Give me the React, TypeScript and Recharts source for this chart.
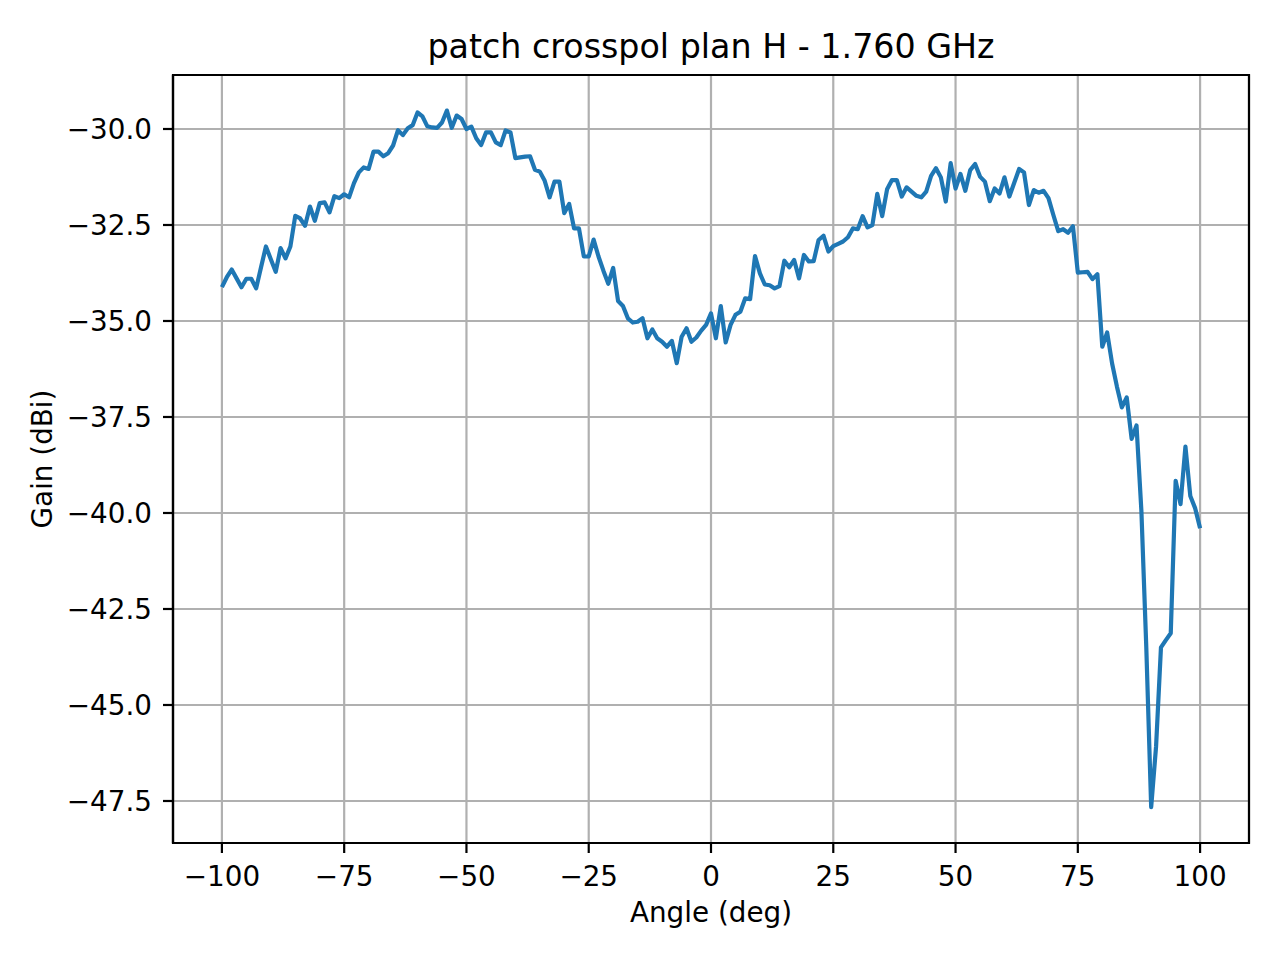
import React from "react";
import {
  LineChart,
  Line,
  XAxis,
  YAxis,
  CartesianGrid,
  ReferenceArea,
} from "recharts";

// measured pattern, 1 deg steps
const angles = [
  -100, -99, -98, -97, -96, -95, -94, -93, -92, -91,
  -90, -89, -88, -87, -86, -85, -84, -83, -82, -81,
  -80, -79, -78, -77, -76, -75, -74, -73, -72, -71,
  -70, -69, -68, -67, -66, -65, -64, -63, -62, -61,
  -60, -59, -58, -57, -56, -55, -54, -53, -52, -51,
  -50, -49, -48, -47, -46, -45, -44, -43, -42, -41,
  -40, -39, -38, -37, -36, -35, -34, -33, -32, -31,
  -30, -29, -28, -27, -26, -25, -24, -23, -22, -21,
  -20, -19, -18, -17, -16, -15, -14, -13, -12, -11,
  -10, -9, -8, -7, -6, -5, -4, -3, -2, -1,
  0, 1, 2, 3, 4, 5, 6, 7, 8, 9,
  10, 11, 12, 13, 14, 15, 16, 17, 18, 19,
  20, 21, 22, 23, 24, 25, 26, 27, 28, 29,
  30, 31, 32, 33, 34, 35, 36, 37, 38, 39,
  40, 41, 42, 43, 44, 45, 46, 47, 48, 49,
  50, 51, 52, 53, 54, 55, 56, 57, 58, 59,
  60, 61, 62, 63, 64, 65, 66, 67, 68, 69,
  70, 71, 72, 73, 74, 75, 76, 77, 78, 79,
  80, 81, 82, 83, 84, 85, 86, 87, 88, 89,
  90, 91, 92, 93, 94, 95, 96, 97, 98, 99,
  100,
];

const gain = [
  -34.12, -33.86, -33.66, -33.89, -34.12, -33.9, -33.9, -34.15, -33.6, -33.06,
  -33.39, -33.72, -33.1, -33.37, -33.06, -32.26, -32.33, -32.52, -32.02, -32.39,
  -31.93, -31.91, -32.17, -31.75, -31.8, -31.7, -31.78, -31.41, -31.13, -31.0,
  -31.04, -30.59, -30.59, -30.71, -30.63, -30.43, -30.03, -30.16, -29.98, -29.9,
  -29.57, -29.67, -29.93, -29.96, -29.97, -29.83, -29.52, -29.97, -29.65, -29.74,
  -30.0, -29.94, -30.24, -30.42, -30.09, -30.09, -30.35, -30.42, -30.04, -30.09,
  -30.76, -30.74, -30.72, -30.71, -31.06, -31.11, -31.35, -31.78, -31.37, -31.37,
  -32.19, -31.95, -32.59, -32.59, -33.32, -33.32, -32.88, -33.32, -33.69, -34.03,
  -33.62, -34.48, -34.61, -34.93, -35.04, -35.02, -34.93, -35.45, -35.22, -35.45,
  -35.54, -35.67, -35.52, -36.1, -35.41, -35.19, -35.54, -35.43, -35.25, -35.1,
  -34.8, -35.45, -34.61, -35.56, -35.1, -34.84, -34.76, -34.41, -34.43, -33.31,
  -33.76, -34.05, -34.07, -34.15, -34.09, -33.43, -33.6, -33.41, -33.89, -33.28,
  -33.45, -33.44, -32.89, -32.78, -33.19, -33.05, -32.99, -32.93, -32.82, -32.59,
  -32.61, -32.27, -32.56, -32.5, -31.69, -32.27, -31.57, -31.33, -31.33, -31.76,
  -31.52, -31.63, -31.74, -31.78, -31.63, -31.22, -31.02, -31.26, -31.89, -30.89,
  -31.55, -31.17, -31.61, -31.07, -30.91, -31.24, -31.37, -31.88, -31.55, -31.68,
  -31.26, -31.76, -31.4, -31.04, -31.13, -31.98, -31.59, -31.66, -31.61, -31.8,
  -32.24, -32.66, -32.61, -32.7, -32.53, -33.74, -33.73, -33.72, -33.91, -33.78,
  -35.67, -35.3, -36.1, -36.71, -37.25, -36.99, -38.07, -37.72, -39.95, -43.5,
  -47.66, -46.08, -43.5, -43.31, -43.13, -39.16, -39.77, -38.27, -39.56, -39.88,
  -40.4,
];

const xTicks = [-100, -75, -50, -25, 0, 25, 50, 75, 100];
const yTicks = [-47.5, -45, -42.5, -40, -37.5, -35, -32.5, -30];

const X_DOMAIN = [-110, 110];
const Y_DOMAIN = [-48.594, -28.594];

const data = angles.map((a, i) => ({ angle: a, gain: gain[i] }));

const FONT = "DejaVu Sans, sans-serif";
const minus = (s: string) => s.replace("-", "\u2212");

const XTick = ({ x, y, payload }: any) => (
  <text x={x} y={y} dy={33} textAnchor="middle" fontSize={27.8} fontFamily={FONT} fill="#000">
    {minus(String(payload.value))}
  </text>
);

const YTick = ({ x, y, payload }: any) => (
  <text x={x} y={y} dy={10} textAnchor="end" fontSize={27.8} fontFamily={FONT} fill="#000">
    {minus(Number(payload.value).toFixed(1))}
  </text>
);

export default function App() {
  return (
    <div style={{ position: "absolute", left: 0, top: 0, width: 1280, height: 960, background: "#fff" }}>
      <LineChart
        width={1280}
        height={960}
        data={data}
        margin={{ top: 75, right: 31, left: 0, bottom: 0 }}
      >
        <CartesianGrid stroke="#b0b0b0" strokeWidth={2.2} />
        <XAxis
          dataKey="angle"
          type="number"
          domain={X_DOMAIN}
          ticks={xTicks}
          height={117}
          tickSize={10}
          tickMargin={0}
          axisLine={{ stroke: "#000", strokeWidth: 2.2 }}
          tickLine={{ stroke: "#000", strokeWidth: 2.2 }}
          tick={<XTick />}
        />
        <YAxis
          type="number"
          domain={Y_DOMAIN}
          ticks={yTicks}
          width={173}
          tickSize={10}
          tickMargin={11}
          axisLine={{ stroke: "#000", strokeWidth: 2.2 }}
          tickLine={{ stroke: "#000", strokeWidth: 2.2 }}
          tick={<YTick />}
        />
        <ReferenceArea
          x1={X_DOMAIN[0]}
          x2={X_DOMAIN[1]}
          y1={Y_DOMAIN[0]}
          y2={Y_DOMAIN[1]}
          fill="none"
          stroke="#000"
          strokeWidth={2.2}
        />
        <Line
          type="linear"
          dataKey="gain"
          stroke="#1f77b4"
          strokeWidth={4.2}
          strokeLinejoin="round"
          dot={false}
          isAnimationActive={false}
        />
      </LineChart>
      <svg
        width={1280}
        height={960}
        style={{ position: "absolute", left: 0, top: 0, pointerEvents: "none" }}
      >
        <text x={711} y={58} textAnchor="middle" fontSize={33.3} fontFamily={FONT} fill="#000">
          patch crosspol plan H - 1.760 GHz
        </text>
        <text x={711} y={922} textAnchor="middle" fontSize={27.8} fontFamily={FONT} fill="#000">
          Angle (deg)
        </text>
        <text
          x={0}
          y={0}
          transform="translate(52 459) rotate(-90)"
          textAnchor="middle"
          fontSize={27.8}
          fontFamily={FONT}
          fill="#000"
        >
          Gain (dBi)
        </text>
      </svg>
    </div>
  );
}
